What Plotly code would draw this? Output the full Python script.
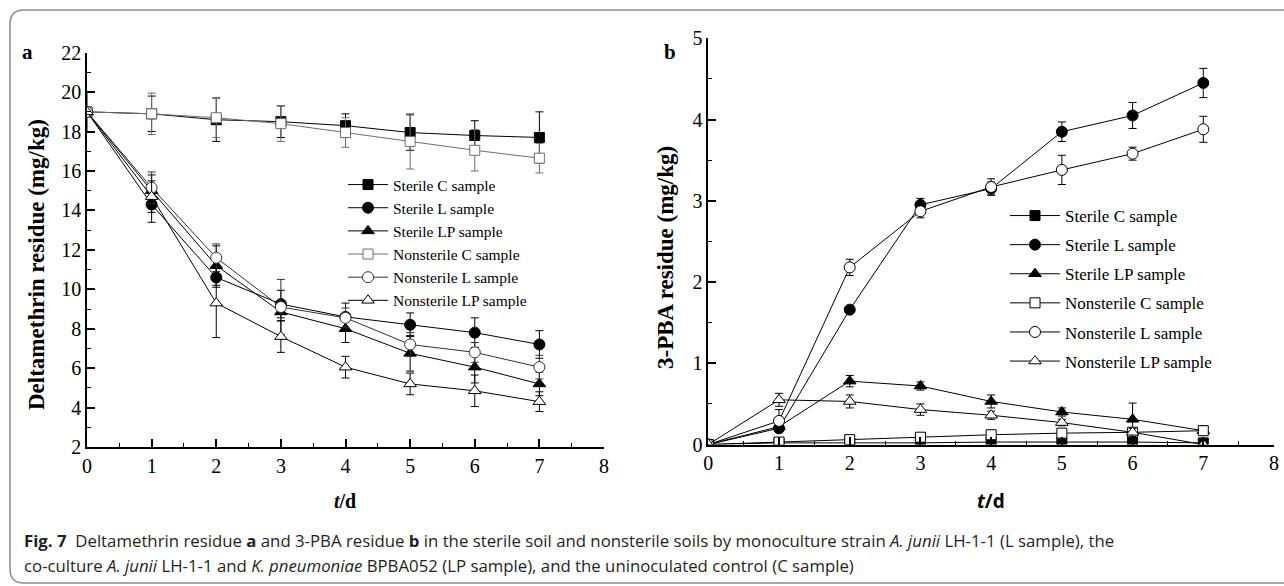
import plotly.graph_objects as go

W, H = 1284, 586
OFF = 0  # body margin removed by post_script below

days = [0, 1, 2, 3, 4, 5, 6, 7]
names = ["Sterile C sample", "Sterile L sample", "Sterile LP sample",
         "Nonsterile C sample", "Nonsterile L sample", "Nonsterile LP sample"]

# Panel a: deltamethrin residue (mg/kg)
a_sterile_c = [19.0, 18.9, 18.6, 18.5, 18.3, 17.95, 17.8, 17.7]
a_sterile_c_err = [1.0, 0.9, 1.1, 0.8, 0.6, 0.9, 0.75, 1.3]
a_sterile_l = [19.0, 14.3, 10.6, 9.25, 8.6, 8.2, 7.8, 7.2]
a_sterile_l_err = [0, 0.9, 0.5, 0.7, 0.7, 0.6, 0.75, 0.7]
a_sterile_lp = [19.0, 15.0, 11.2, 8.85, 8.0, 6.75, 6.05, 5.2]
a_sterile_lp_err = [0, 0.8, 1.0, 0.45, 0.7, 0.9, 0.8, 0.6]
a_nonsterile_c = [19.0, 18.9, 18.7, 18.4, 17.95, 17.5, 17.05, 16.65]
a_nonsterile_c_err = [0, 1.05, 1.0, 0.9, 0.75, 1.4, 1.05, 0.75]
a_nonsterile_l = [19.0, 15.15, 11.6, 9.1, 8.55, 7.2, 6.8, 6.05]
a_nonsterile_l_err = [0, 0.8, 0.7, 1.4, 0.5, 0.6, 0.5, 0.6]
a_nonsterile_lp = [19.0, 14.7, 9.3, 7.6, 6.05, 5.2, 4.85, 4.3]
a_nonsterile_lp_err = [0, 0.8, 1.75, 0.8, 0.55, 0.55, 0.8, 0.5]

# Panel b: 3-PBA residue (mg/kg)
b_sterile_c = [0, 0.02, 0.02, 0.02, 0.03, 0.03, 0.03, 0.02]
b_sterile_c_err = [0, 0.01, 0.01, 0.01, 0.01, 0.01, 0.01, 0.01]
b_sterile_l = [0, 0.2, 1.66, 2.95, 3.15, 3.85, 4.05, 4.45]
b_sterile_l_err = [0, 0.04, 0.03, 0.08, 0.08, 0.12, 0.16, 0.18]
b_sterile_lp = [0, 0.22, 0.78, 0.72, 0.53, 0.4, 0.31, 0.17]
b_sterile_lp_err = [0, 0.05, 0.07, 0.05, 0.08, 0.05, 0.2, 0.04]
b_nonsterile_c = [0, 0.03, 0.06, 0.09, 0.12, 0.14, 0.15, 0.17]
b_nonsterile_c_err = [0, 0.01, 0.02, 0.02, 0.02, 0.03, 0.04, 0.06]
b_nonsterile_l = [0, 0.29, 2.18, 2.87, 3.17, 3.38, 3.58, 3.88]
b_nonsterile_l_err = [0, 0.14, 0.1, 0.08, 0.1, 0.18, 0.08, 0.16]
b_nonsterile_lp = [0, 0.55, 0.53, 0.43, 0.36, 0.27, 0.15, 0.0]
b_nonsterile_lp_err = [0, 0.08, 0.08, 0.07, 0.05, 0.04, 0.05, 0.02]

a_vals = [a_sterile_c, a_sterile_l, a_sterile_lp, a_nonsterile_c, a_nonsterile_l, a_nonsterile_lp]
a_errs = [a_sterile_c_err, a_sterile_l_err, a_sterile_lp_err, a_nonsterile_c_err, a_nonsterile_l_err, a_nonsterile_lp_err]
b_vals = [b_sterile_c, b_sterile_l, b_sterile_lp, b_nonsterile_c, b_nonsterile_l, b_nonsterile_lp]
b_errs = [b_sterile_c_err, b_sterile_l_err, b_sterile_lp_err, b_nonsterile_c_err, b_nonsterile_l_err, b_nonsterile_lp_err]

symbols = ["square", "circle", "triangle-up", "square", "circle", "triangle-up"]
fills = ["black", "black", "black", "white", "white", "white"]
sizes = [10, 11, 11, 10, 11, 11]
a_line_colors = ["black", "black", "black", "#6e6e6e", "#333333", "black"]
b_line_colors = ["black"] * 6


def px(x):
    return (x - OFF) / W


def py(y):
    return 1 - (y - OFF) / H


fig = go.Figure()

for i in range(6):
    fig.add_trace(go.Scatter(
        x=days, y=a_vals[i], name=names[i], mode="lines+markers",
        xaxis="x", yaxis="y", legend="legend", legendgroup="a%d" % i,
        line=dict(color=a_line_colors[i], width=1),
        marker=dict(symbol=symbols[i], size=sizes[i], color=fills[i],
                    line=dict(color=a_line_colors[i], width=1)),
        error_y=dict(type="data", array=a_errs[i], visible=True,
                     color=a_line_colors[i], thickness=1, width=4),
    ))

for i in range(6):
    fig.add_trace(go.Scatter(
        x=days, y=b_vals[i], name=names[i], mode="lines+markers",
        xaxis="x2", yaxis="y2", legend="legend2", legendgroup="b%d" % i,
        line=dict(color=b_line_colors[i], width=1),
        marker=dict(symbol=symbols[i], size=sizes[i], color=fills[i],
                    line=dict(color="black", width=1)),
        error_y=dict(type="data", array=b_errs[i], visible=True,
                     color="black", thickness=1, width=4),
    ))

serif = "Liberation Serif"
tickfont = dict(family=serif, size=20, color="black")


def axis(domain, rng, dtick, mdtick, anchor):
    return dict(domain=domain, range=rng, dtick=dtick, tick0=0, anchor=anchor,
                showline=True, linecolor="black", linewidth=1.6,
                ticks="inside", ticklen=8, tickwidth=1.6, tickcolor="black",
                minor=dict(ticks="inside", ticklen=4, tickwidth=1.2, tickcolor="black", dtick=mdtick),
                showgrid=False, zeroline=False, tickfont=tickfont,
                automargin=False, fixedrange=True)


ax_a = [px(87), px(604)]
ay_a = [py(447), py(52.7)]
ax_b = [px(708.3), px(1274)]
ay_b = [py(444.5), py(38.3)]


def ann(text, x, y, size, family=serif, angle=0, xanchor="center", color="black"):
    return dict(text=text, x=px(x), y=py(y), xref="paper", yref="paper",
                xanchor=xanchor, yanchor="middle", showarrow=False, textangle=angle,
                font=dict(family=family, size=size, color=color))


annotations = [
    ann("<b>a</b>", 27, 52, 21),
    ann("<b>b</b>", 670, 52, 21),
    ann("<b>Deltamethrin residue (mg/kg)</b>", 36, 265, 23, angle=-90),
    ann("<b>3-PBA residue (mg/kg)</b>", 665, 258, 23, angle=-90),
    ann("<b><i>t</i>/d</b>", 345, 501, 20),
    ann("<b><i>t</i>/d</b>", 991, 501, 19, family="Open Sans"),
    ann("<b>Fig. 7</b>\u00a0\u00a0Deltamethrin residue <b>a</b> and 3-PBA residue <b>b</b> in the sterile soil and nonsterile soils by monoculture strain <i>A. junii</i> LH-1-1 (L sample), the",
        22, 540, 16.8, family="Open Sans", xanchor="left", color="#231f20"),
    ann("co-culture <i>A. junii</i> LH-1-1 and <i>K. pneumoniae</i> BPBA052 (LP sample), and the uninoculated control (C sample)",
        22, 565, 16.8, family="Open Sans", xanchor="left", color="#231f20"),
]

r = 14
x0, y0, x1, y1 = 10, 10, 1310, 583
border = ("M %f,%f L %f,%f Q %f,%f %f,%f L %f,%f Q %f,%f %f,%f L %f,%f" % (
    px(x1), py(y0), px(x0 + r), py(y0), px(x0), py(y0), px(x0), py(y0 + r),
    px(x0), py(y1 - r), px(x0), py(y1), px(x0 + r), py(y1), px(x1), py(y1)))

fig.update_layout(
    width=W, height=H, template="none",
    paper_bgcolor="white", plot_bgcolor="white",
    margin=dict(l=0, r=0, t=0, b=0),
    xaxis=axis(ax_a, [0, 8], 1, 0.5, "y"),
    yaxis=axis(ay_a, [2, 22], 2, 1, "x"),
    xaxis2=axis(ax_b, [0, 8], 1, 0.5, "y2"),
    yaxis2=axis(ay_b, [0, 5], 1, 0.5, "x2"),
    showlegend=True,
    legend=dict(x=px(343), y=py(168), xanchor="left", yanchor="top",
                bgcolor="rgba(0,0,0,0)", borderwidth=0, traceorder="grouped",
                tracegroupgap=0, itemwidth=40,
                font=dict(family=serif, size=15.5, color="black")),
    legend2=dict(x=px(1005), y=py(198), xanchor="left", yanchor="top",
                 bgcolor="rgba(0,0,0,0)", borderwidth=0, traceorder="grouped",
                 tracegroupgap=4, itemwidth=50,
                 font=dict(family=serif, size=17, color="black")),
    annotations=annotations,
    shapes=[dict(type="path", path=border, xref="paper", yref="paper",
                 line=dict(color="#8c8c8c", width=1.5), layer="above")],
)

fig.write_html("out.html",
               config={"displayModeBar": False},
               post_script="document.body.style.margin='0';document.body.style.overflow='hidden';")
